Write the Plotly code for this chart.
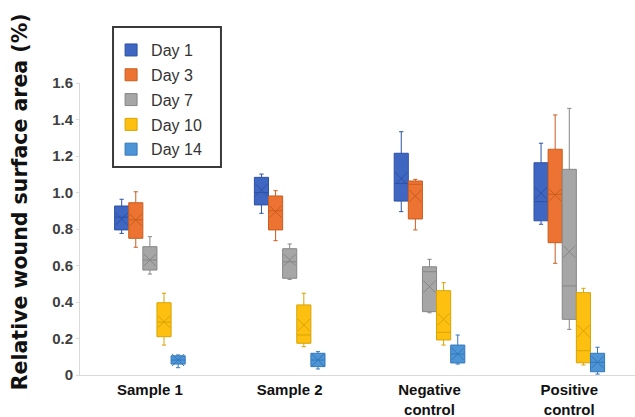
import plotly.graph_objects as go

categories = ["Sample 1", "Sample 2", "Negative<br>control", "Positive<br>control"]
days = ["Day 1", "Day 3", "Day 7", "Day 10", "Day 14"]

fill_colors = ["#3f66c1", "#ec7331", "#a6a6a6", "#fdc010", "#4e95d6"]
line_colors = ["#2d51a6", "#c95d1f", "#868686", "#d9a300", "#3478bb"]

upper = [
    [0.963, 1.101, 1.333, 1.270],
    [1.004, 1.010, 1.072, 1.425],
    [0.758, 0.718, 0.634, 1.461],
    [0.448, 0.448, 0.506, 0.475],
    [0.110, 0.128, 0.219, 0.152],
]
q3 = [
    [0.926, 1.083, 1.215, 1.163],
    [0.944, 0.981, 1.063, 1.237],
    [0.703, 0.692, 0.593, 1.127],
    [0.396, 0.384, 0.462, 0.451],
    [0.105, 0.119, 0.164, 0.119],
]
median = [
    [0.865, 1.000, 1.050, 0.950],
    [0.850, 0.900, 1.045, 0.990],
    [0.630, 0.620, 0.566, 0.488],
    [0.290, 0.219, 0.234, 0.133],
    [0.082, 0.082, 0.115, 0.070],
]
mean = [
    [0.855, 1.014, 1.077, 0.996],
    [0.849, 0.895, 0.981, 0.986],
    [0.630, 0.630, 0.484, 0.676],
    [0.292, 0.274, 0.305, 0.241],
    [0.082, 0.082, 0.115, 0.070],
]
q1 = [
    [0.795, 0.932, 0.953, 0.845],
    [0.749, 0.795, 0.855, 0.725],
    [0.575, 0.530, 0.347, 0.305],
    [0.210, 0.174, 0.192, 0.067],
    [0.060, 0.046, 0.066, 0.018],
]
lower = [
    [0.776, 0.886, 0.895, 0.826],
    [0.700, 0.736, 0.795, 0.612],
    [0.553, 0.524, 0.341, 0.250],
    [0.164, 0.155, 0.164, 0.055],
    [0.040, 0.033, 0.060, 0.005],
]

y_tickvals = [0, 0.2, 0.4, 0.6, 0.8, 1.0, 1.2, 1.4, 1.6]
y_ticktext = ["0", "0.2", "0.4", "0.6", "0.8", "1.0", "1.2", "1.4", "1.6"]

BOX_W = 0.101  # width of one box in category units
n_days = len(days)

fig = go.Figure()
for j, day in enumerate(days):
    xs = [i + (j - (n_days - 1) / 2) * BOX_W for i in range(len(categories))]
    fig.add_trace(go.Box(
        name=day,
        legendgroup=day,
        x=xs,
        q1=q1[j], median=median[j], q3=q3[j],
        lowerfence=lower[j], upperfence=upper[j],
        width=BOX_W,
        fillcolor=fill_colors[j],
        line=dict(color=line_colors[j], width=1),
        whiskerwidth=0.3,
        boxpoints=False,
        hoverinfo="skip",
    ))
    fig.add_trace(go.Scatter(
        x=xs, y=mean[j], mode="markers", showlegend=False,
        legendgroup=day,
        marker=dict(symbol="x-thin", size=12,
                    line=dict(color=line_colors[j], width=1)),
        hoverinfo="skip",
    ))

fig.add_annotation(
    text="<b>Relative wound surface area (%)</b>",
    textangle=-90, xref="paper", yref="paper",
    x=-0.108, y=0.592, xanchor="center", yanchor="middle",
    showarrow=False,
    font=dict(family="DejaVu Sans", size=20.5, color="#111111"),
)

# legend frame
fig.add_shape(
    type="rect", xref="paper", yref="paper",
    x0=0.0595, x1=0.254, y0=0.712, y1=1.192,
    line=dict(color="#3a3a3a", width=2), fillcolor="white", layer="below",
)

fig.update_layout(
    width=635, height=417,
    margin=dict(l=80, r=0, t=83, b=42, autoexpand=False),
    paper_bgcolor="white", plot_bgcolor="white",
    showlegend=True,
    legend=dict(
        x=0.056, y=1.171, xanchor="left", yanchor="top",
        bgcolor="rgba(0,0,0,0)", borderwidth=0,
        tracegroupgap=1,
        font=dict(family="Liberation Sans, Arial", size=16, color="#333333"),
    ),
    xaxis=dict(
        range=[-0.5, 3.47],
        tickvals=list(range(len(categories))),
        ticktext=["<b>%s</b>" % c for c in categories],
        tickfont=dict(family="Liberation Sans, Arial", size=15, color="#111111"),
        showgrid=False, zeroline=False,
        showline=True, linecolor="#d9d9d9", linewidth=1,
        ticks="", ticklabelstandoff=1, automargin=False,
    ),
    yaxis=dict(
        range=[0, 1.6],
        tickvals=y_tickvals,
        ticktext=["<b>%s</b>" % t for t in y_ticktext],
        tickfont=dict(family="Liberation Sans, Arial", size=15, color="#404040"),
        showgrid=False, zeroline=False,
        showline=True, linecolor="#d9d9d9", linewidth=1,
        ticks="outside", ticklen=3, tickcolor="#d9d9d9", automargin=False,
    ),
)

fig.write_html("out.html")
